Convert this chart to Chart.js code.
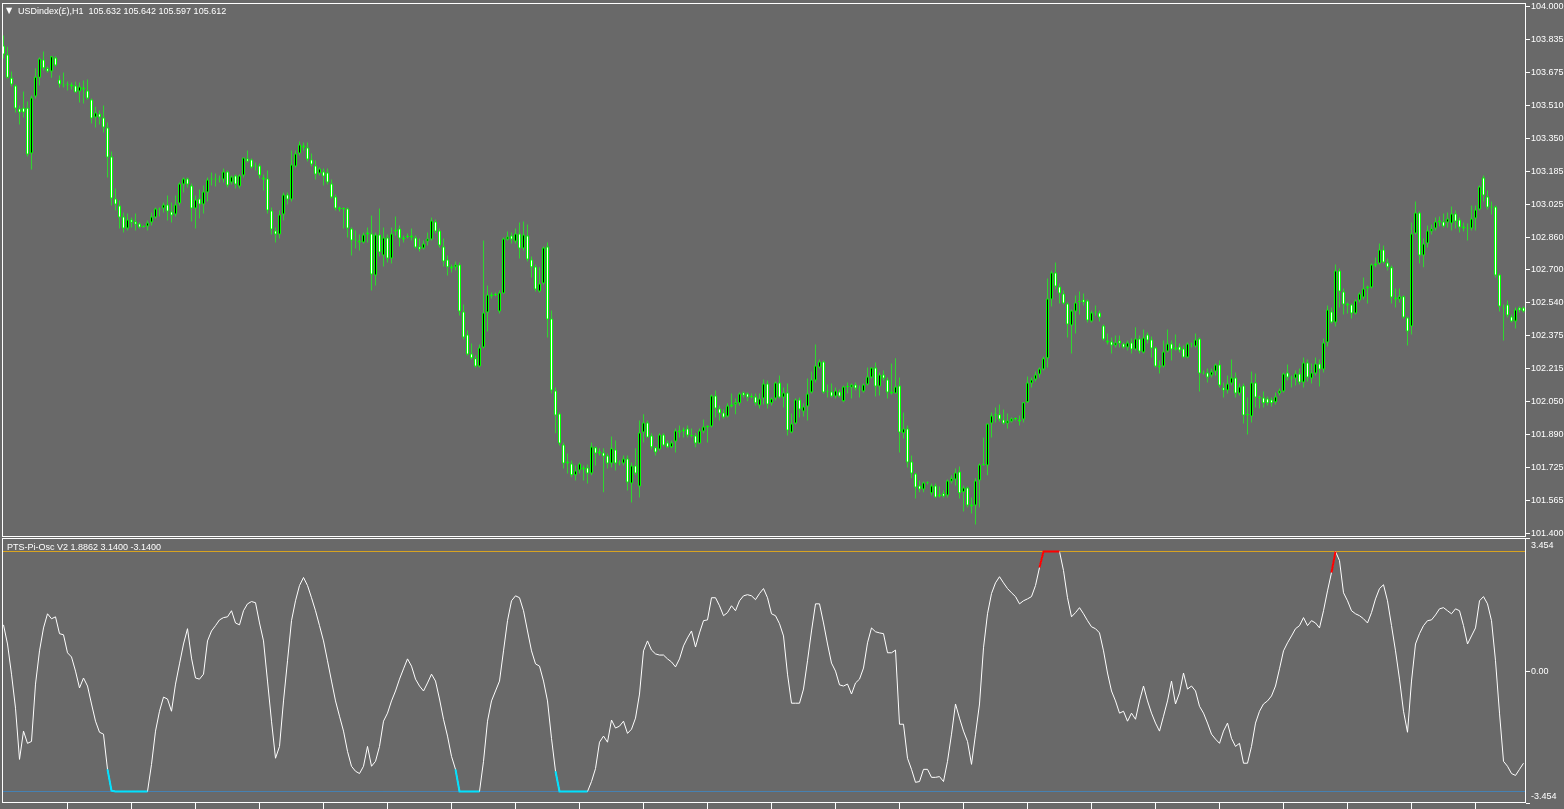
<!DOCTYPE html>
<html>
<head>
<meta charset="utf-8">
<style>
html, body { margin: 0; padding: 0; background: #696969; overflow: hidden; }
#wrap { position: relative; width: 1564px; height: 809px; }
canvas { position: absolute; left: 0; }
#price { top: 0; }
#osc { top: 537px; }
.lbl { position: absolute; color: #fff; font: 9px "Liberation Sans", Arial, sans-serif; white-space: pre; line-height: 10px; }
</style>
<script src="https://cdn.jsdelivr.net/npm/chart.js"></script>
</head>
<body>
<div id="wrap">
  <canvas id="price" width="1564" height="537" style="width:1564px;height:537px"></canvas>
  <canvas id="osc" width="1564" height="272" style="width:1564px;height:272px"></canvas>
  <div class="lbl" style="left:6px;top:6px;font-family:'DejaVu Sans';font-size:8px">▼</div>
  <div class="lbl" style="left:18px;top:6px">USDindex(£),H1  105.632 105.642 105.597 105.612</div>
  <div class="lbl" style="left:7px;top:542px">PTS-Pi-Osc V2 1.8862 3.1400 -3.1400</div>
</div>
<script>
// H1 bars, oldest first
const opens = [
  103.807, 103.763, 103.649, 103.610, 103.497, 103.501, 103.501, 103.275, 103.556, 103.649,
  103.739, 103.695, 103.679, 103.749, 103.640, 103.615, 103.615, 103.615, 103.610, 103.581,
  103.600, 103.586, 103.541, 103.452, 103.472, 103.452, 103.403, 103.260, 103.053, 103.018,
  102.964, 102.905, 102.949, 102.939, 102.929, 102.914, 102.914, 102.934, 102.959, 103.003,
  103.003, 103.023, 102.989, 102.974, 103.028, 103.122, 103.152, 103.117, 103.003, 103.053,
  103.023, 103.082, 103.152, 103.147, 103.152, 103.147, 103.186, 103.132, 103.166, 103.112,
  103.166, 103.250, 103.245, 103.216, 103.216, 103.156, 103.152, 102.994, 102.895, 102.875,
  102.974, 103.072, 103.048, 103.211, 103.275, 103.314, 103.304, 103.245, 103.216, 103.176,
  103.186, 103.181, 103.127, 103.063, 103.008, 103.003, 103.003, 102.905, 102.851, 102.846,
  102.836, 102.875, 102.880, 102.673, 102.875, 102.771, 102.860, 102.757, 102.900, 102.905,
  102.851, 102.865, 102.860, 102.860, 102.816, 102.806, 102.841, 102.851, 102.939, 102.895,
  102.816, 102.752, 102.717, 102.713, 102.727, 102.495, 102.382, 102.288, 102.264, 102.224,
  102.318, 102.490, 102.570, 102.579, 102.495, 102.584, 102.851, 102.870, 102.841, 102.880,
  102.806, 102.870, 102.752, 102.717, 102.594, 102.634, 102.816, 102.461, 102.106, 101.992,
  101.839, 101.755, 101.745, 101.687, 101.711, 101.726, 101.726, 101.696, 101.825, 101.805,
  101.800, 101.785, 101.745, 101.815, 101.750, 101.745, 101.770, 101.647, 101.736, 101.632,
  101.898, 101.948, 101.884, 101.825, 101.815, 101.889, 101.849, 101.825, 101.854, 101.908,
  101.913, 101.918, 101.884, 101.884, 101.844, 101.903, 101.923, 101.928, 102.081, 102.017,
  101.997, 101.977, 102.037, 102.037, 102.042, 102.096, 102.091, 102.076, 102.076, 102.032,
  102.066, 102.140, 102.042, 102.066, 102.145, 102.071, 102.096, 101.898, 101.943, 102.061,
  102.002, 102.027, 102.096, 102.155, 102.219, 102.249, 102.101, 102.101, 102.076, 102.101,
  102.052, 102.125, 102.120, 102.135, 102.115, 102.101, 102.135, 102.170, 102.219, 102.125,
  102.185, 102.160, 102.101, 102.091, 102.130, 101.894, 101.918, 101.755, 101.696, 101.637,
  101.617, 101.652, 101.598, 101.637, 101.593, 101.598, 101.588, 101.657, 101.667, 101.706,
  101.603, 101.627, 101.543, 101.538, 101.662, 101.741, 101.736, 101.943, 101.988, 101.988,
  101.963, 101.943, 101.953, 101.967, 101.953, 101.963, 102.047, 102.140, 102.160, 102.185,
  102.209, 102.264, 102.555, 102.688, 102.619, 102.584, 102.535, 102.426, 102.495, 102.545,
  102.555, 102.550, 102.446, 102.490, 102.490, 102.426, 102.352, 102.347, 102.327, 102.352,
  102.337, 102.318, 102.342, 102.308, 102.362, 102.293, 102.382, 102.357, 102.318, 102.229,
  102.224, 102.298, 102.337, 102.318, 102.323, 102.313, 102.268, 102.337, 102.323, 102.362,
  102.194, 102.194, 102.180, 102.199, 102.234, 102.120, 102.106, 102.140, 102.170, 102.091,
  102.130, 101.988, 101.977, 102.145, 102.071, 102.071, 102.066, 102.061, 102.047, 102.091,
  102.101, 102.194, 102.170, 102.165, 102.189, 102.145, 102.244, 102.165, 102.189, 102.239,
  102.209, 102.342, 102.495, 102.441, 102.698, 102.594, 102.535, 102.530, 102.485, 102.550,
  102.564, 102.609, 102.614, 102.722, 102.732, 102.801, 102.737, 102.713, 102.564, 102.555,
  102.570, 102.466, 102.421, 102.880, 102.984, 102.771, 102.831, 102.890, 102.905, 102.944,
  102.939, 102.934, 102.929, 102.979, 102.949, 102.914, 102.910, 102.905, 102.954, 102.998,
  103.156, 103.063, 103.013, 103.013, 102.678, 102.515, 102.530, 102.471, 102.446, 102.515, 102.515
];
const highs = [
  103.857, 103.802, 103.679, 103.615, 103.511, 103.581, 103.531, 103.561, 103.695, 103.749,
  103.778, 103.704, 103.754, 103.754, 103.659, 103.674, 103.630, 103.625, 103.630, 103.625,
  103.635, 103.640, 103.546, 103.506, 103.487, 103.511, 103.428, 103.285, 103.102, 103.043,
  102.984, 102.979, 102.959, 102.979, 102.934, 102.919, 102.944, 102.984, 103.008, 103.008,
  103.033, 103.067, 103.033, 103.067, 103.132, 103.156, 103.156, 103.127, 103.067, 103.097,
  103.117, 103.156, 103.181, 103.176, 103.166, 103.201, 103.191, 103.166, 103.171, 103.171,
  103.255, 103.290, 103.250, 103.230, 103.225, 103.171, 103.191, 103.008, 102.910, 102.994,
  103.082, 103.082, 103.290, 103.290, 103.334, 103.329, 103.329, 103.275, 103.240, 103.206,
  103.201, 103.201, 103.147, 103.072, 103.013, 103.008, 103.008, 102.910, 102.895, 102.875,
  102.885, 102.910, 102.969, 102.885, 103.003, 102.910, 102.875, 102.910, 102.964, 102.919,
  102.870, 102.880, 102.905, 102.870, 102.856, 102.846, 102.885, 102.959, 102.949, 102.905,
  102.856, 102.771, 102.727, 102.742, 102.737, 102.530, 102.402, 102.337, 102.278, 102.332,
  102.846, 102.624, 102.589, 102.589, 102.599, 102.860, 102.890, 102.885, 102.905, 102.934,
  102.939, 102.924, 102.767, 102.727, 102.713, 102.816, 102.836, 102.500, 102.120, 101.997,
  101.849, 101.795, 101.760, 101.736, 101.750, 101.736, 101.741, 101.849, 101.829, 101.820,
  101.820, 101.795, 101.879, 101.859, 101.760, 101.785, 101.785, 101.750, 101.820, 101.958,
  101.988, 101.958, 101.894, 101.829, 101.894, 101.894, 101.859, 101.859, 101.918, 101.933,
  101.923, 101.933, 101.918, 101.894, 101.918, 101.963, 101.933, 102.086, 102.106, 102.032,
  102.012, 102.042, 102.091, 102.066, 102.096, 102.101, 102.096, 102.091, 102.091, 102.091,
  102.160, 102.155, 102.071, 102.150, 102.180, 102.120, 102.140, 101.992, 102.066, 102.071,
  102.042, 102.165, 102.199, 102.332, 102.259, 102.254, 102.135, 102.140, 102.120, 102.111,
  102.130, 102.145, 102.140, 102.145, 102.130, 102.140, 102.219, 102.219, 102.244, 102.194,
  102.204, 102.170, 102.239, 102.264, 102.170, 101.997, 101.933, 101.785, 101.701, 101.662,
  101.657, 101.657, 101.647, 101.647, 101.632, 101.612, 101.667, 101.687, 101.721, 101.731,
  101.637, 101.632, 101.578, 101.672, 101.745, 101.874, 101.943, 101.997, 102.022, 102.037,
  102.012, 101.992, 101.972, 101.972, 101.982, 102.047, 102.175, 102.170, 102.199, 102.219,
  102.273, 102.658, 102.698, 102.737, 102.634, 102.599, 102.540, 102.505, 102.574, 102.594,
  102.584, 102.555, 102.500, 102.525, 102.500, 102.431, 102.387, 102.367, 102.377, 102.377,
  102.342, 102.352, 102.362, 102.417, 102.377, 102.407, 102.392, 102.372, 102.323, 102.254,
  102.352, 102.407, 102.352, 102.382, 102.337, 102.327, 102.342, 102.342, 102.387, 102.367,
  102.204, 102.214, 102.214, 102.239, 102.254, 102.145, 102.180, 102.259, 102.194, 102.140,
  102.140, 102.071, 102.199, 102.189, 102.081, 102.101, 102.076, 102.071, 102.096, 102.115,
  102.194, 102.234, 102.180, 102.204, 102.214, 102.268, 102.259, 102.239, 102.268, 102.259,
  102.362, 102.525, 102.515, 102.727, 102.708, 102.609, 102.540, 102.535, 102.555, 102.589,
  102.663, 102.624, 102.732, 102.762, 102.831, 102.821, 102.757, 102.722, 102.609, 102.609,
  102.574, 102.471, 102.934, 103.038, 102.989, 102.856, 102.919, 102.924, 102.959, 102.964,
  102.979, 102.984, 103.013, 102.994, 102.959, 102.934, 102.929, 103.018, 103.018, 103.117,
  103.166, 103.092, 103.038, 103.018, 102.683, 102.530, 102.550, 102.480, 102.515, 102.520, 102.520
];
const lows = [
  103.744, 103.645, 103.605, 103.477, 103.418, 103.452, 103.260, 103.196, 103.546, 103.610,
  103.684, 103.674, 103.649, 103.704, 103.600, 103.600, 103.586, 103.591, 103.576, 103.526,
  103.521, 103.541, 103.423, 103.403, 103.418, 103.378, 103.156, 103.018, 102.994, 102.905,
  102.885, 102.895, 102.910, 102.895, 102.905, 102.910, 102.895, 102.919, 102.954, 102.964,
  102.984, 102.944, 102.934, 102.964, 103.018, 103.082, 103.107, 102.939, 102.905, 102.954,
  102.979, 103.038, 103.117, 103.112, 103.132, 103.132, 103.107, 103.122, 103.102, 103.102,
  103.156, 103.230, 103.201, 103.191, 103.152, 103.092, 102.979, 102.875, 102.836, 102.856,
  102.944, 103.023, 103.038, 103.206, 103.265, 103.290, 103.235, 103.211, 103.147, 103.166,
  103.117, 103.122, 103.053, 102.994, 102.989, 102.905, 102.860, 102.771, 102.806, 102.796,
  102.831, 102.836, 102.599, 102.624, 102.767, 102.717, 102.737, 102.732, 102.870, 102.816,
  102.836, 102.856, 102.846, 102.806, 102.791, 102.801, 102.821, 102.846, 102.880, 102.811,
  102.717, 102.673, 102.688, 102.698, 102.475, 102.357, 102.278, 102.259, 102.219, 102.219,
  102.313, 102.397, 102.560, 102.570, 102.485, 102.584, 102.846, 102.831, 102.831, 102.757,
  102.796, 102.742, 102.663, 102.594, 102.589, 102.629, 102.367, 102.091, 101.894, 101.834,
  101.721, 101.696, 101.677, 101.662, 101.696, 101.662, 101.647, 101.687, 101.736, 101.785,
  101.603, 101.721, 101.726, 101.711, 101.736, 101.736, 101.612, 101.553, 101.687, 101.578,
  101.849, 101.874, 101.815, 101.785, 101.810, 101.829, 101.820, 101.820, 101.800, 101.874,
  101.874, 101.874, 101.874, 101.825, 101.844, 101.894, 101.849, 101.923, 101.972, 101.958,
  101.967, 101.972, 102.022, 101.988, 102.032, 102.071, 102.052, 102.066, 102.032, 102.017,
  102.037, 102.017, 102.032, 102.056, 102.066, 102.022, 101.884, 101.894, 101.938, 101.972,
  101.977, 101.958, 102.091, 102.145, 102.214, 102.091, 102.071, 102.071, 102.066, 102.071,
  102.047, 102.091, 102.066, 102.106, 102.071, 102.096, 102.130, 102.165, 102.076, 102.081,
  102.155, 102.066, 102.086, 102.091, 101.800, 101.869, 101.726, 101.672, 101.573, 101.603,
  101.603, 101.642, 101.588, 101.578, 101.578, 101.578, 101.578, 101.647, 101.637, 101.573,
  101.509, 101.528, 101.499, 101.444, 101.528, 101.736, 101.687, 101.874, 101.948, 101.953,
  101.938, 101.918, 101.948, 101.958, 101.933, 101.948, 102.042, 102.120, 102.150, 102.170,
  102.204, 102.219, 102.520, 102.604, 102.535, 102.530, 102.367, 102.288, 102.387, 102.480,
  102.525, 102.441, 102.441, 102.475, 102.446, 102.352, 102.332, 102.288, 102.318, 102.318,
  102.313, 102.303, 102.288, 102.303, 102.288, 102.288, 102.337, 102.268, 102.219, 102.189,
  102.219, 102.293, 102.254, 102.303, 102.293, 102.268, 102.264, 102.318, 102.318, 102.101,
  102.185, 102.145, 102.170, 102.180, 102.120, 102.071, 102.091, 102.130, 102.071, 102.081,
  101.943, 101.889, 101.948, 102.022, 102.017, 102.022, 102.032, 102.027, 102.037, 102.081,
  102.096, 102.155, 102.120, 102.130, 102.135, 102.120, 102.150, 102.140, 102.180, 102.125,
  102.194, 102.323, 102.436, 102.421, 102.515, 102.480, 102.485, 102.461, 102.480, 102.540,
  102.555, 102.535, 102.609, 102.713, 102.727, 102.732, 102.698, 102.535, 102.515, 102.540,
  102.461, 102.327, 102.382, 102.875, 102.732, 102.713, 102.811, 102.875, 102.895, 102.914,
  102.910, 102.910, 102.895, 102.905, 102.885, 102.890, 102.846, 102.895, 102.895, 102.994,
  103.038, 102.998, 102.974, 102.663, 102.495, 102.352, 102.466, 102.441, 102.412, 102.490, 102.490
];
const closes = [
  103.763, 103.649, 103.615, 103.497, 103.477, 103.477, 103.270, 103.551, 103.654, 103.744,
  103.695, 103.679, 103.754, 103.709, 103.615, 103.610, 103.612, 103.605, 103.576, 103.605,
  103.591, 103.546, 103.448, 103.477, 103.452, 103.403, 103.255, 103.053, 103.023, 102.959,
  102.905, 102.949, 102.934, 102.924, 102.910, 102.912, 102.934, 102.964, 103.003, 102.998,
  103.023, 102.989, 102.969, 103.023, 103.127, 103.152, 103.122, 103.003, 103.048, 103.023,
  103.087, 103.147, 103.147, 103.152, 103.147, 103.186, 103.117, 103.161, 103.122, 103.166,
  103.255, 103.235, 103.206, 103.211, 103.166, 103.147, 102.994, 102.900, 102.875, 102.974,
  103.072, 103.048, 103.220, 103.275, 103.319, 103.304, 103.245, 103.220, 103.171, 103.201,
  103.161, 103.132, 103.058, 103.003, 102.998, 103.001, 102.905, 102.846, 102.846, 102.836,
  102.875, 102.885, 102.678, 102.875, 102.786, 102.860, 102.757, 102.880, 102.890, 102.856,
  102.860, 102.863, 102.870, 102.811, 102.801, 102.831, 102.856, 102.944, 102.890, 102.821,
  102.742, 102.713, 102.708, 102.727, 102.495, 102.367, 102.283, 102.264, 102.224, 102.318,
  102.490, 102.579, 102.579, 102.577, 102.589, 102.856, 102.865, 102.851, 102.880, 102.806,
  102.875, 102.752, 102.713, 102.604, 102.634, 102.811, 102.456, 102.106, 101.982, 101.844,
  101.745, 101.745, 101.687, 101.711, 101.745, 101.716, 101.696, 101.829, 101.795, 101.795,
  101.780, 101.745, 101.820, 101.745, 101.745, 101.770, 101.652, 101.736, 101.696, 101.898,
  101.948, 101.874, 101.825, 101.800, 101.889, 101.834, 101.825, 101.849, 101.908, 101.898,
  101.903, 101.884, 101.881, 101.844, 101.908, 101.928, 101.933, 102.081, 102.017, 101.992,
  101.972, 102.032, 102.027, 102.047, 102.091, 102.081, 102.071, 102.074, 102.042, 102.066,
  102.140, 102.037, 102.066, 102.145, 102.071, 102.096, 101.908, 101.943, 102.061, 102.012,
  102.027, 102.091, 102.160, 102.229, 102.249, 102.096, 102.099, 102.076, 102.106, 102.076,
  102.125, 102.123, 102.135, 102.115, 102.111, 102.135, 102.175, 102.219, 102.125, 102.185,
  102.165, 102.096, 102.091, 102.125, 101.898, 101.918, 101.750, 101.696, 101.627, 101.617,
  101.652, 101.650, 101.637, 101.578, 101.583, 101.583, 101.662, 101.672, 101.701, 101.598,
  101.627, 101.538, 101.533, 101.662, 101.741, 101.738, 101.943, 101.982, 101.982, 101.963,
  101.943, 101.958, 101.967, 101.965, 101.963, 102.047, 102.145, 102.160, 102.185, 102.214,
  102.264, 102.560, 102.688, 102.619, 102.584, 102.535, 102.431, 102.500, 102.540, 102.542,
  102.540, 102.451, 102.490, 102.495, 102.466, 102.357, 102.342, 102.327, 102.342, 102.337,
  102.318, 102.342, 102.308, 102.362, 102.298, 102.367, 102.352, 102.313, 102.224, 102.219,
  102.298, 102.337, 102.308, 102.308, 102.303, 102.268, 102.337, 102.332, 102.357, 102.189,
  102.189, 102.170, 102.199, 102.234, 102.130, 102.106, 102.140, 102.170, 102.091, 102.125,
  101.982, 101.985, 102.145, 102.071, 102.069, 102.042, 102.042, 102.042, 102.076, 102.106,
  102.189, 102.170, 102.165, 102.189, 102.145, 102.244, 102.170, 102.194, 102.239, 102.209,
  102.342, 102.505, 102.441, 102.698, 102.594, 102.530, 102.525, 102.485, 102.550, 102.584,
  102.609, 102.619, 102.727, 102.732, 102.801, 102.737, 102.713, 102.564, 102.555, 102.570,
  102.466, 102.397, 102.880, 102.984, 102.771, 102.831, 102.895, 102.905, 102.939, 102.934,
  102.914, 102.954, 102.979, 102.939, 102.910, 102.905, 102.905, 102.954, 102.998, 103.112,
  103.067, 103.008, 103.008, 102.673, 102.520, 102.510, 102.475, 102.446, 102.505, 102.500, 102.495
];

// PTS-Pi-Osc V2, one value per bar
const osc = [
  1.22, 0.72, -0.07, -0.96, -2.30, -1.56, -1.88, -1.83, -0.33, 0.54,
  1.14, 1.51, 1.38, 1.43, 0.99, 0.96, 0.49, 0.38, 0.01, -0.43,
  -0.17, -0.38, -0.85, -1.30, -1.59, -1.64, -2.56, -3.12, -3.14, -3.14,
  -3.14, -3.14, -3.14, -3.14, -3.14, -3.14, -3.14, -2.43, -1.56, -1.04,
  -0.67, -0.72, -1.04, -0.33, 0.20, 0.72, 1.12, 0.35, -0.17, -0.20,
  -0.07, 0.80, 1.06, 1.20, 1.35, 1.41, 1.43, 1.59, 1.27, 1.22,
  1.59, 1.77, 1.83, 1.80, 1.27, 0.80, -0.25, -1.30, -2.27, -1.96,
  -0.77, 0.28, 1.33, 1.85, 2.25, 2.46, 2.25, 1.93, 1.59, 1.20,
  0.80, 0.28, -0.25, -0.77, -1.17, -1.56, -2.09, -2.48, -2.61, -2.67,
  -2.48, -1.96, -2.48, -2.35, -1.96, -1.30, -1.09, -0.77, -0.51, -0.20,
  0.07, 0.33, 0.14, -0.20, -0.38, -0.51, -0.30, -0.07, -0.25, -0.72,
  -1.25, -1.69, -2.22, -2.56, -3.14, -3.14, -3.14, -3.14, -3.14, -3.14,
  -2.35, -1.30, -0.77, -0.51, -0.25, 0.54, 1.33, 1.85, 1.98, 1.93,
  1.59, 1.06, 0.54, 0.20, 0.14, -0.25, -0.77, -1.75, -2.61, -3.14,
  -3.14, -3.14, -3.14, -3.14, -3.14, -3.14, -3.14, -2.88, -2.54, -1.85,
  -1.69, -1.85, -1.27, -1.48, -1.43, -1.30, -1.62, -1.51, -1.22, -0.59,
  0.54, 0.80, 0.56, 0.46, 0.43, 0.43, 0.33, 0.25, 0.12, 0.33,
  0.67, 0.88, 1.06, 0.64, 1.01, 1.33, 1.35, 1.93, 1.93, 1.72,
  1.46, 1.54, 1.72, 1.59, 1.85, 1.98, 2.01, 1.98, 1.88, 2.04,
  2.17, 1.93, 1.51, 1.46, 1.25, 0.93, -0.07, -0.83, -0.83, -0.83,
  -0.46, 0.28, 1.06, 1.77, 1.77, 1.27, 0.72, 0.22, 0.01, -0.35,
  -0.38, -0.33, -0.59, -0.30, -0.20, 0.09, 0.75, 1.14, 1.04, 1.01,
  0.99, 0.49, 0.49, 0.56, -1.38, -1.38, -2.27, -2.56, -2.90, -2.88,
  -2.56, -2.56, -2.77, -2.77, -2.75, -2.88, -2.35, -1.64, -0.85, -1.22,
  -1.56, -1.83, -2.43, -1.64, -0.85, 0.62, 1.51, 2.04, 2.32, 2.48,
  2.32, 2.17, 2.06, 1.96, 1.77, 1.85, 1.90, 1.96, 2.25, 2.72,
  3.14, 3.14, 3.14, 3.14, 3.14, 2.64, 1.93, 1.43, 1.54, 1.67,
  1.51, 1.33, 1.17, 1.12, 1.01, 0.54, -0.04, -0.51, -0.77, -1.09,
  -1.04, -1.30, -1.09, -1.25, -0.77, -0.38, -0.77, -1.09, -1.35, -1.56,
  -1.17, -0.77, -0.25, -0.85, -0.56, -0.04, -0.46, -0.38, -0.51, -0.91,
  -1.09, -1.35, -1.64, -1.77, -1.88, -1.56, -1.35, -1.75, -1.96, -1.88,
  -2.40, -2.40, -1.96, -1.35, -1.04, -0.85, -0.77, -0.64, -0.38, 0.07,
  0.54, 0.75, 0.93, 1.12, 1.20, 1.41, 1.20, 1.33, 1.27, 1.14,
  1.59, 2.11, 2.59, 3.14, 2.90, 2.06, 1.85, 1.59, 1.51, 1.46,
  1.38, 1.27, 1.54, 1.90, 2.17, 2.27, 1.85, 1.20, 0.54, -0.20,
  -1.04, -1.59, -0.25, 0.72, 0.99, 1.20, 1.33, 1.35, 1.48, 1.64,
  1.67, 1.59, 1.51, 1.64, 1.59, 1.20, 0.72, 0.93, 1.14, 1.85,
  1.96, 1.77, 1.33, 0.28, -1.09, -2.35, -2.48, -2.67, -2.72, -2.56, -2.40
];

// bars where the oscillator sits at its extremes (first, last bar index)
const upRanges = [[259, 264], [332, 333]];
const downRanges = [[26, 36], [113, 119], [138, 146]];
const levels = [3.14, -3.14];

const priceTickLabels = ['104.000', '103.835', '103.675', '103.510', '103.350', '103.185', '103.025', '102.860',
  '102.700', '102.540', '102.375', '102.215', '102.050', '101.890', '101.725', '101.565', '101.400'];
const oscTickLabels = ['3.454', '0.00', '-3.454'];
const timeTicks = [16, 32, 48, 64, 80, 96, 112, 128, 144, 160, 176, 192, 208, 224, 240, 256, 272, 288, 304, 320, 336, 352, 368];

Chart.defaults.font.family = '"Liberation Sans", Arial, sans-serif';
Chart.defaults.font.size = 9;
Chart.defaults.color = '#ffffff';

const X_MIN = -0.375;
const X_MAX = 380.625;
const bars = opens.map((_, i) => i);

// axis widths fixed and no label overhang padding, so the plot frame sits where MT4 puts it
const fitRight = s => { s.width = 38; s.paddingTop = 0; s.paddingBottom = 0; };

const frame = {
  id: 'frame',
  afterDatasetsDraw(chart) {
    const { ctx, chartArea: a } = chart;
    ctx.save();
    ctx.strokeStyle = '#ffffff';
    ctx.lineWidth = 1;
    ctx.strokeRect(a.left + 0.5, a.top + 0.5, a.right - a.left - 1, a.bottom - a.top - 1);
    ctx.restore();
  }
};

const oscLabels = {
  id: 'oscLabels',
  afterDraw(chart) {
    const { ctx, chartArea: a, scales: { y } } = chart;
    ctx.save();
    ctx.fillStyle = '#ffffff';
    ctx.font = '9px "Liberation Sans", Arial, sans-serif';
    ctx.textAlign = 'left';
    ctx.textBaseline = 'middle';
    const x = a.right + 5;
    ctx.fillText(oscTickLabels[0], x, a.top + 8);
    ctx.fillText(oscTickLabels[1], x, y.getPixelForValue(0));
    ctx.fillText(oscTickLabels[2], x, a.bottom - 6);
    ctx.restore();
  }
};

new Chart(document.getElementById('price'), {
  type: 'bar',
  data: {
    datasets: [
      {
        label: 'body',
        data: bars.map(i => ({ x: i, y: [opens[i], closes[i]] })),
        backgroundColor: bars.map(i => closes[i] > opens[i] ? '#000000' : '#ffffff'),
        borderColor: '#00ff00',
        borderWidth: 1,
        borderSkipped: false,
        barThickness: 3,
        minBarLength: 1,
        inflateAmount: 0,
        grouped: false,
        order: 0
      },
      {
        label: 'wick',
        data: bars.map(i => ({ x: i, y: [lows[i], highs[i]] })),
        backgroundColor: '#2ed82e',
        borderWidth: 0,
        barThickness: 1,
        inflateAmount: 0,
        grouped: false,
        order: 1
      }
    ]
  },
  options: {
    responsive: false,
    animation: false,
    layout: { padding: { left: 2, top: 3, right: 0, bottom: 0 } },
    plugins: { legend: { display: false }, tooltip: { enabled: false } },
    scales: {
      x: { type: 'linear', display: false, offset: false, min: X_MIN, max: X_MAX },
      y: {
        position: 'right',
        min: 101.38273,
        max: 104.01727,
        afterFit: fitRight,
        afterBuildTicks: s => { s.ticks = priceTickLabels.map(t => ({ value: Number(t) })); },
        ticks: {
          autoSkip: false,
          padding: 1,
          color: '#ffffff',
          callback: v => priceTickLabels.find(t => Number(t) === v)
        },
        grid: { drawOnChartArea: false, drawTicks: true, tickLength: 4, color: '#ffffff' },
        border: { display: false }
      }
    }
  },
  plugins: [frame]
});

const inRanges = (ranges, i) => ranges.some(r => i >= r[0] && i <= r[1]);

new Chart(document.getElementById('osc'), {
  type: 'line',
  data: {
    datasets: [
      {
        label: 'down',
        data: bars.map(i => ({ x: i, y: inRanges(downRanges, i) ? osc[i] : null })),
        borderColor: '#00e1ff',
        borderWidth: 2,
        pointRadius: 0,
        spanGaps: false,
        order: 0
      },
      {
        label: 'up',
        data: bars.map(i => ({ x: i, y: inRanges(upRanges, i) ? osc[i] : null })),
        borderColor: '#ff0000',
        borderWidth: 2,
        pointRadius: 0,
        spanGaps: false,
        order: 0
      },
      {
        label: 'PTS-Pi-Osc V2',
        data: bars.map(i => ({ x: i, y: osc[i] })),
        borderColor: '#ffffff',
        borderWidth: 1,
        pointRadius: 0,
        tension: 0,
        order: 1
      },
      {
        label: 'upper level',
        data: [{ x: X_MIN, y: levels[0] }, { x: X_MAX, y: levels[0] }],
        borderColor: '#daa520',
        borderWidth: 1,
        pointRadius: 0,
        order: 2
      },
      {
        label: 'lower level',
        data: [{ x: X_MIN, y: levels[1] }, { x: X_MAX, y: levels[1] }],
        borderColor: '#4682b4',
        borderWidth: 1,
        pointRadius: 0,
        order: 2
      }
    ]
  },
  options: {
    responsive: false,
    animation: false,
    layout: { padding: { left: 2, top: 1, right: 0, bottom: 0 } },
    plugins: { legend: { display: false }, tooltip: { enabled: false } },
    scales: {
      x: {
        type: 'linear',
        min: X_MIN,
        max: X_MAX,
        offset: false,
        afterFit: s => { s.height = 6; s.paddingLeft = 0; s.paddingRight = 0; },
        afterBuildTicks: s => { s.ticks = timeTicks.map(v => ({ value: v })); },
        ticks: { autoSkip: false, maxRotation: 0, callback: () => '' },
        grid: { drawOnChartArea: false, drawTicks: true, tickLength: 6, color: '#ffffff' },
        border: { display: false }
      },
      y: {
        position: 'right',
        min: -3.441,
        max: 3.493,
        afterFit: fitRight,
        afterBuildTicks: s => { s.ticks = [{ value: s.max }, { value: 0 }, { value: s.min }]; },
        ticks: { display: false },
        grid: { drawOnChartArea: false, drawTicks: true, tickLength: 4, color: '#ffffff' },
        border: { display: false }
      }
    }
  },
  plugins: [frame, oscLabels]
});
</script>
</body>
</html>
